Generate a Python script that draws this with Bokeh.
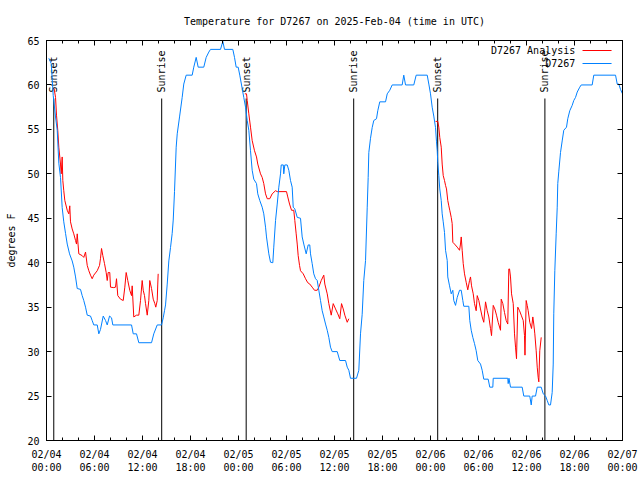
import math
from bokeh.plotting import figure
from bokeh.models import Range1d, FixedTicker, LinearAxis, Label, Arrow, ColumnDataSource
from bokeh.core.properties import value
from bokeh.embed import file_html
from bokeh.resources import INLINE

FONT = "DejaVu Sans Mono"

title_text = "Temperature for D7267 on 2025-Feb-04 (time in UTC)"
y_label = "degrees F"
series_names = ["D7267 Analysis", "D7267"]
series_colors = ["#ff0000", "#0080ff"]

# hours since 2025-02-04 00:00 UTC
x_ticks = [0, 6, 12, 18, 24, 30, 36, 42, 48, 54, 60, 66, 72]
x_tick_labels = ["02/04\n00:00", "02/04\n06:00", "02/04\n12:00", "02/04\n18:00",
                 "02/05\n00:00", "02/05\n06:00", "02/05\n12:00", "02/05\n18:00",
                 "02/06\n00:00", "02/06\n06:00", "02/06\n12:00", "02/06\n18:00",
                 "02/07\n00:00"]
x_minor = list(range(0, 73, 2))
y_ticks = [20, 25, 30, 35, 40, 45, 50, 55, 60, 65]

sun_hours = [0.91, 14.4, 24.96, 38.4, 48.9, 62.3]
sun_labels = ["Sunset", "Sunrise", "Sunset", "Sunrise", "Sunset", "Sunrise"]

# observed station D7267
obs_hours = [0.29, 0.59, 0.84, 1.13, 1.34, 1.54, 1.75, 1.96, 2.16, 2.38, 2.59, 2.88, 3.21, 3.41,
             3.63, 3.84, 4.25, 4.46, 4.66, 4.88, 5.09, 5.5, 5.71, 5.91, 6.34, 6.54, 6.75, 7.09,
             7.38, 7.59, 7.88, 8.13, 8.29, 10.63, 10.84, 11.25, 11.54, 13.13, 13.41, 13.84, 14.38,
             14.59, 14.75, 14.88, 15.09, 15.29, 15.5, 15.71, 15.84, 16.0, 16.21, 16.34, 16.63,
             16.96, 17.16, 17.46, 18.21, 18.41, 18.71, 18.96, 19.66, 19.96, 20.29, 20.5, 21.75,
             22.04, 22.25, 23.29, 23.5, 23.71, 23.96, 24.16, 24.46, 24.66, 24.88, 25.09, 25.29,
             25.5, 25.71, 25.91, 26.25, 26.41, 26.66, 26.96, 27.16, 27.38, 27.5, 27.79, 28.0,
             28.29, 28.41, 28.63, 28.84, 29.04, 29.25, 29.34, 29.6, 29.66, 29.79, 30.09, 30.29,
             30.5, 30.71, 30.84, 31.04, 31.34, 31.75, 31.96, 32.16, 32.46, 32.71, 32.91, 33.0,
             33.21, 33.41, 33.63, 33.84, 34.04, 34.25, 34.46, 34.66, 34.88, 35.09, 35.29, 35.5,
             35.71, 36.34, 36.66, 37.38, 37.59, 37.79, 38.0, 38.75, 39.04, 39.25, 39.46, 39.66,
             39.88, 40.09, 40.21, 40.29, 40.5, 40.71, 40.91, 41.25, 41.41, 41.66, 42.38, 42.59,
             42.91, 43.21, 44.46, 44.66, 44.88, 45.91, 46.21, 47.59, 47.79, 48.0, 48.21, 48.41,
             48.63, 48.75, 48.84, 48.91, 49.04, 49.16, 49.34, 49.46, 49.59, 49.75, 49.88, 50.09,
             50.16, 50.38, 50.59, 50.79, 50.91, 51.13, 51.34, 51.63, 51.84, 52.04, 52.16, 52.79,
             52.91, 53.09, 53.29, 53.5, 53.71, 53.91, 54.25, 54.46, 54.66, 55.21, 55.41, 55.79,
             55.84, 57.66, 57.71, 57.81, 58.0, 59.46, 59.66, 60.41, 60.59, 60.71, 61.13, 61.34,
             61.84, 62.09, 62.38, 62.59, 62.79, 63.0, 63.21, 63.34, 63.41, 63.54, 63.71, 63.84,
             63.91, 64.04, 64.25, 64.46, 64.66, 65.0, 65.16, 65.41, 65.71, 65.91, 66.13, 66.34,
             66.66, 66.84, 68.21, 68.41, 71.13, 71.34, 71.54, 71.75, 72.0]
obs_temp = [63.0, 62.4, 58.8, 56.4, 54.9, 51.2, 49.6, 46.2, 44.6, 43.3, 42.1, 41.0, 40.2, 39.5,
            38.4, 37.1, 37.0, 36.3, 35.75, 35.0, 34.1, 34.0, 33.5, 33.0, 33.0, 32.0, 32.5, 34.0,
            33.5, 33.0, 34.0, 33.8, 33.0, 33.0, 32.0, 32.0, 31.0, 31.0, 32.0, 33.0, 33.0,
            33.8, 34.6, 35.25, 37.6, 40.2, 41.7, 43.3, 44.8, 48.0, 53.0, 54.5, 56.4,
            58.6, 60.1, 61.1, 61.1, 62.0, 63.1, 62.0, 62.0, 63.1, 63.7, 64.0, 64.0,
            64.9, 64.0, 64.0, 63.1, 62.0, 62.0, 61.1, 59.6, 58.6, 57.5, 56.0, 54.9,
            52.6, 50.4, 49.4, 48.9, 47.75, 47.0, 46.25, 45.5, 44.0, 42.9, 41.0, 40.06,
            40.0, 41.75, 44.75, 46.6, 48.5, 50.0, 51.0, 51.0, 50.0, 51.0, 51.0, 50.4,
            49.25, 48.5, 46.25, 46.06, 45.1, 45.0, 42.9, 42.1, 41.0, 42.0, 42.0, 41.0,
            39.9, 38.75, 38.2, 38.0, 36.9, 35.75, 34.6, 33.9, 33.1, 32.4, 31.6, 30.5,
            30.0, 30.0, 29.0, 29.0, 28.25, 27.9, 27.0, 27.0, 27.9, 32.0, 34.2, 38.0,
            40.25, 46.25, 49.6, 52.4, 54.0, 55.2, 56.0, 56.2, 57.1, 58.1, 58.1, 59.0,
            59.4, 60.0, 60.0, 61.1, 60.0, 60.0, 61.1, 61.1, 60.1, 59.0, 57.5, 56.5,
            55.2, 53.6, 52.6, 51.3, 49.8, 48.3, 47.0, 45.5, 44.6, 43.4, 41.4, 40.25,
            38.4, 37.4, 36.5, 36.9, 35.75, 35.2, 36.1, 36.9, 36.9, 35.75, 35.1, 35.1,
            33.5, 32.4, 31.6, 30.9, 30.1, 29.0, 28.6, 27.9, 26.9, 26.9, 26.0, 26.0,
            27.0, 27.0, 26.4, 27.0, 26.0, 26.0, 25.0, 25.0, 24.0, 25.0, 25.0, 26.0,
            26.0, 25.25, 25.0, 24.5, 24.0, 24.0, 25.4, 28.6, 34.25, 39.1, 43.25, 46.25,
            48.9, 50.3, 52.4, 53.7, 54.9, 55.25, 56.2, 57.1, 57.7, 58.25, 58.6, 59.2,
            59.75, 60.0, 60.0, 61.1, 61.1, 60.1, 60.1, 59.5, 59.0]

# analysis, three evening/night segments
ana_hours_1 = [0.95, 1.13, 1.25, 1.41, 1.54, 1.75, 1.84, 1.96, 2.04, 2.16, 2.29, 2.59, 2.79, 2.91,
               3.0, 3.21, 3.41, 3.63, 3.75, 3.84, 3.94, 4.04, 4.46, 4.66, 4.88, 5.09, 5.29, 5.5,
               5.71, 5.91, 6.34, 6.63, 6.75, 6.88, 7.04, 7.25, 7.46, 7.59, 7.71, 7.91, 8.0, 8.41,
               8.63, 8.75, 8.91, 9.25, 9.59, 9.79, 9.96, 10.16, 10.41, 10.63, 10.71, 10.91, 11.25,
               11.54, 11.75, 11.96, 12.09, 12.25, 12.38, 12.59, 12.79, 12.91, 13.13, 13.34, 13.54,
               13.66, 13.84, 13.91, 13.96]
ana_temp_1 = [59.6, 58.6, 56.6, 54.9, 53.0, 51.1, 50.0, 51.9, 49.25, 48.1, 47.0, 45.9, 45.5, 46.4,
              44.6, 43.8, 43.25, 42.5, 42.1, 43.25, 42.1, 41.0, 40.8, 40.6, 41.2, 39.7, 39.1, 38.6,
              38.2, 38.6, 39.1, 39.7, 40.5, 41.6, 40.8, 39.9, 38.9, 38.0, 38.9, 38.9, 37.25, 37.2,
              37.25, 38.2, 36.3, 35.9, 35.75, 37.25, 38.9, 38.0, 36.9, 36.3, 37.4, 33.9, 34.1,
              34.1, 35.75, 38.0, 36.9, 36.3, 35.4, 34.1, 35.75, 38.0, 37.1, 35.9, 35.4,
              35.0, 35.75, 37.6, 38.75]
ana_hours_2 = [24.79, 25.0, 25.09, 25.29, 25.5, 25.71, 26.0, 26.25, 26.41, 26.75, 26.96, 27.16,
               27.38, 27.59, 27.91, 28.21, 28.63, 28.84, 30.0, 30.16, 30.38, 30.63, 30.91, 31.04,
               31.21, 31.34, 31.46, 31.63, 31.75, 32.09, 32.38, 32.66, 32.91, 33.21, 33.5, 33.84,
               34.04, 34.34, 34.66, 34.79, 35.09, 35.29, 35.59, 35.84, 36.13, 36.41, 36.66, 36.88,
               37.09, 37.29, 37.59, 37.79]
ana_temp_2 = [59.0, 59.0, 58.25, 56.75, 55.25, 53.75, 52.6, 51.9, 51.1, 50.0, 49.6, 48.9,
              47.75, 47.2, 47.2, 47.75, 48.1, 48.0, 48.0, 47.4, 46.6, 45.9, 45.9, 44.75,
              43.25, 42.1, 40.8, 39.7, 39.1, 38.75, 38.2, 37.75, 37.6, 37.25, 36.9, 36.9,
              37.25, 38.0, 38.6, 37.6, 36.5, 35.4, 34.1, 35.4, 34.8, 34.25, 33.7, 35.4,
              34.8, 34.1, 33.3, 33.7]
ana_hours_3 = [48.63, 48.91, 49.04, 49.16, 49.34, 49.46, 49.59, 49.75, 49.88, 50.0, 50.16, 50.29,
               50.41, 50.59, 50.71, 50.79, 51.0, 51.34, 51.63, 51.75, 51.84, 51.96, 52.09, 52.25,
               52.46, 52.66, 52.88, 53.0, 53.13, 53.34, 53.5, 53.71, 53.84, 54.04, 54.25, 54.46,
               54.66, 54.88, 55.09, 55.29, 55.5, 55.63, 55.84, 56.04, 56.25, 56.46, 56.75, 56.84,
               57.04, 57.25, 57.46, 57.66, 57.79, 57.88, 58.0, 58.13, 58.34, 58.5, 58.63, 58.75,
               58.91, 59.13, 59.34, 59.59, 59.75, 59.81, 59.96, 60.09, 60.21, 60.41, 60.63, 60.79,
               60.91, 61.04, 61.21, 61.34, 61.46, 61.54, 61.66, 61.84]
ana_temp_3 = [55.9, 55.9, 55.25, 54.1, 53.0, 51.1, 49.8, 49.25, 48.7, 48.3, 47.0, 46.4,
              45.9, 45.1, 44.4, 42.3, 42.1, 41.75, 41.4, 42.1, 42.9, 41.4, 39.9, 38.75,
              37.8, 36.95, 38.0, 38.4, 37.4, 36.5, 35.4, 34.6, 36.3, 35.75, 34.8, 33.9,
              33.3, 35.6, 34.6, 33.9, 32.6, 31.8, 35.2, 34.8, 34.1, 33.3, 32.4, 35.9,
              35.4, 34.4, 33.5, 33.1, 39.3, 39.3, 38.4, 36.5, 35.4, 32.0, 30.5, 29.2,
              35.0, 34.6, 34.1, 33.5, 31.8, 29.6, 35.75, 35.2, 34.6, 33.3, 32.6, 33.9,
              33.1, 32.0, 30.1, 28.25, 27.1, 26.6, 30.1, 31.6]

X0, X1 = 0, 72
Y0, Y1 = 20, 65

p = figure(width=640, height=480, x_range=Range1d(X0, X1), y_range=Range1d(Y0, Y1),
           output_backend="svg", toolbar_location=None,
           min_border_left=46, min_border_right=18, min_border_top=40, min_border_bottom=40)
p.background_fill_color = "white"
p.border_fill_color = "white"
p.outline_line_color = "black"
p.outline_line_width = 1
p.xgrid.visible = False
p.ygrid.visible = False

p.title.text = title_text
p.title.align = "center"
p.title.text_font = FONT
p.title.text_font_size = "10px"
p.title.text_font_style = "normal"
p.title.text_color = "black"
p.title.standoff = 27

ticker_x = FixedTicker(ticks=x_ticks, minor_ticks=x_minor)
ticker_y = FixedTicker(ticks=y_ticks, minor_ticks=[])

def style_axis(ax, labels=True, standoff=6):
    ax.axis_line_color = "black"
    ax.major_tick_in = 5
    ax.major_tick_out = 0
    ax.minor_tick_in = 3
    ax.minor_tick_out = 0
    ax.major_tick_line_color = "black"
    ax.minor_tick_line_color = "black"
    ax.major_label_text_font = FONT
    ax.major_label_text_font_size = "10px"
    ax.major_label_text_color = "black" if labels else None
    ax.major_label_standoff = standoff if labels else 0

xa = p.xaxis[0]
xa.ticker = ticker_x
xa.major_label_overrides = {float(t): s for t, s in zip(x_ticks, x_tick_labels)}
style_axis(xa, standoff=8)

ya = p.yaxis[0]
ya.ticker = ticker_y
style_axis(ya, standoff=7)
ya.axis_label = y_label
ya.axis_label_text_font = FONT
ya.axis_label_text_font_size = "10px"
ya.axis_label_text_font_style = "normal"
ya.axis_label_text_color = "black"
ya.axis_label_standoff = 7

top = LinearAxis(ticker=ticker_x)
style_axis(top, labels=False)
p.add_layout(top, "above")
right = LinearAxis(ticker=ticker_y)
style_axis(right, labels=False)
p.add_layout(right, "right")

# sunrise / sunset markers
line_top = Y0 + 0.855 * (Y1 - Y0)
text_start = Y0 + 0.87 * (Y1 - Y0)
sun_src = ColumnDataSource(dict(x=sun_hours, y0=[Y0] * len(sun_hours), y1=[line_top] * len(sun_hours),
                                yt=[text_start] * len(sun_hours), label=sun_labels))
p.segment(x0="x", y0="y0", x1="x", y1="y1", source=sun_src, line_color="black", line_width=1)
p.text(x="x", y="yt", text="label", source=sun_src, angle=math.pi / 2,
       text_align="left", text_baseline="middle", text_font=value(FONT),
       text_font_size="10px", text_color="black")

# series
for hrs, tmp in ((ana_hours_1, ana_temp_1), (ana_hours_2, ana_temp_2), (ana_hours_3, ana_temp_3)):
    p.line(hrs, tmp, line_color=series_colors[0], line_width=1)
p.line(obs_hours, obs_temp, line_color=series_colors[1], line_width=1)

# gnuplot-style key: text then line sample
key_text_x = X0 + 0.918 * (X1 - X0)
key_line_x0 = X0 + 0.9306 * (X1 - X0)
key_line_x1 = X0 + 0.981 * (X1 - X0)
key_rows = [Y0 + 0.975 * (Y1 - Y0), Y0 + 0.9425 * (Y1 - Y0)]
for name, color, yk in zip(series_names, series_colors, key_rows):
    p.add_layout(Label(x=key_text_x, y=yk, text=name, text_align="right", text_baseline="middle",
                       text_font=FONT, text_font_size="10px", text_color="black"))
    p.add_layout(Arrow(end=None, x_start=key_line_x0, y_start=yk, x_end=key_line_x1, y_end=yk,
                       line_color=color, line_width=1))

open("out.html", "w").write(file_html(p, INLINE))
